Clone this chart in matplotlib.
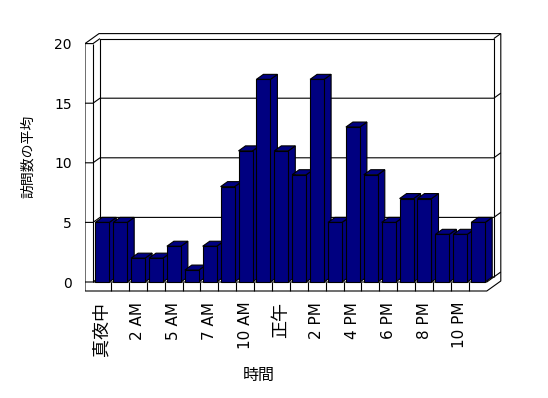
import matplotlib
matplotlib.use('Agg')
import matplotlib.pyplot as plt
from matplotlib.patches import Polygon

plt.rcParams['font.family'] = ['DejaVu Sans', 'Noto Sans CJK JP']

# データ
hours = ['真夜中', '1 AM', '2 AM', '4 AM', '5 AM', '6 AM', '7 AM', '9 AM', '10 AM', '11 AM',
         '正午', '1 PM', '2 PM', '3 PM', '4 PM', '5 PM', '6 PM', '7 PM', '8 PM', '9 PM',
         '10 PM', '11 PM']
visits = [5, 5, 2, 2, 3, 1, 3, 8, 11, 17, 11, 9, 17, 5, 13, 9, 5, 7, 7, 4, 4, 5]
yticks = [0, 5, 10, 15, 20]

W, H = 548, 398
fig = plt.figure(figsize=(W / 100, H / 100), dpi=100)

# axes: pixel 85..503 (x), 33..292 (y)
kx, ky = 17.9, 11.92
ax = fig.add_axes([85 / W, (H - 292) / H, 418 / W, 259 / H])
n = len(visits)
xl_left = (85 - 93) / kx - 0.5
xl_right = (503 - 93) / kx - 0.5
ax.set_xlim(xl_left, xl_right)
ax.set_ylim(-10 / ky, 249 / ky)
for s in ax.spines.values():
    s.set_visible(False)

dx, dy = 7 / kx, 5 / ky        # 奥行き
X0, X1 = -0.5, n - 0.5
XL = xl_left
YB = -9 / ky
top = yticks[-1]
lw = 0.8
k = dict(color='black', lw=lw, solid_capstyle='butt')

# 外枠
outline = [(XL, YB), (XL, top), (XL + 2 * dx, top + 2 * dy), (X1 + 2 * dx, top + 2 * dy),
           (X1 + 2 * dx, YB + 2 * dy), (X1, YB)]
ax.add_patch(Polygon(outline, closed=True, facecolor='white', edgecolor='black', lw=lw, zorder=1))

# 壁
ax.plot([X0, X0], [0, top], **k, zorder=2)
ax.plot([XL, X0, X0 + dx], [top, top, top + dy], **k, zorder=2)
ax.plot([X0 + dx, X0 + dx, X1 + dx, X1 + dx], [dy, top + dy, top + dy, dy], **k, zorder=2)
ax.plot([X1 + dx, X1 + 2 * dx], [top + dy, top + 2 * dy], **k, zorder=2)

# 目盛線
for v in yticks[:-1]:
    ax.plot([XL, X0, X0 + dx, X1 + dx, X1 + 2 * dx],
            [v, v, v + dy, v + dy, v + 2 * dy], **k, zorder=2)

# 床
ax.plot([X0, X1, X1 + dx], [0, 0, dy], **k, zorder=2)
for i in range(n - 1):
    ax.plot([i + 0.5, i + 0.5], [YB, 0], **k, zorder=2)

# 棒
bw = 14 / kx
off = 2.3 / kx
navy = '#000080'
for i, v in enumerate(visits):
    x0 = i - 0.5 + off
    x1 = x0 + bw
    z = 3 + i
    front = [(x0, 0), (x1, 0), (x1, v), (x0, v)]
    topf = [(x0, v), (x1, v), (x1 + dx, v + dy), (x0 + dx, v + dy)]
    side = [(x1, 0), (x1 + dx, dy), (x1 + dx, v + dy), (x1, v)]
    for poly in (side, topf, front):
        ax.add_patch(Polygon(poly, closed=True, facecolor=navy, edgecolor='black',
                             lw=lw, zorder=z, joinstyle='miter'))

# 軸ラベル
ax.set_yticks(yticks)
ax.set_yticklabels([str(v) for v in yticks], fontsize=10)
ax.tick_params(axis='y', length=0, pad=9.4)
ax.set_xticks(range(0, n, 2))
ax.set_xticklabels(hours[::2], rotation=90, fontsize=11)
ax.tick_params(axis='x', length=0, pad=7)
for t in ax.get_xticklabels():
    if not t.get_text()[0].isdigit():
        t.set_fontsize(13)

fig.text(28 / W, 1 - 156 / H, '訪問数の平均', rotation=90, ha='center', va='center', fontsize=10)
fig.text(259 / W, 1 - 375 / H, '時間', ha='center', va='center', fontsize=11.5)

fig.savefig('out.png', dpi=100)
